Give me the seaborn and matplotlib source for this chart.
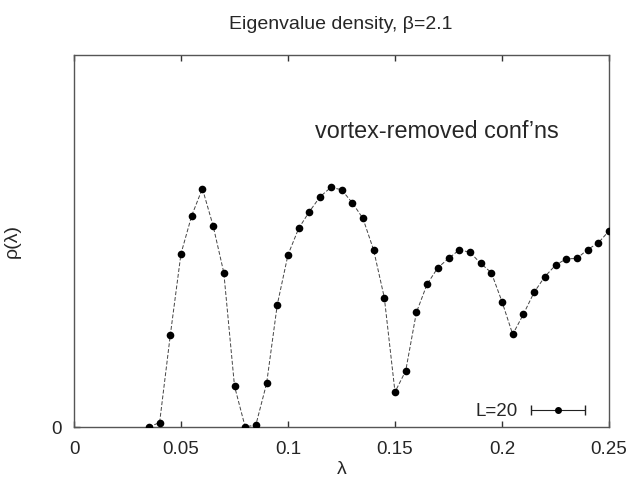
import numpy as np
import pandas as pd
import matplotlib
matplotlib.use("Agg")
import matplotlib.pyplot as plt
import seaborn as sns
from matplotlib.container import ErrorbarContainer
from matplotlib.legend_handler import HandlerErrorbar

# ---- data ----
lam = [0.035, 0.040, 0.045, 0.050, 0.055, 0.060, 0.065, 0.070, 0.075, 0.080,
       0.085, 0.090, 0.095, 0.100, 0.105, 0.110, 0.115, 0.120, 0.125, 0.130,
       0.135, 0.140, 0.145, 0.150, 0.155, 0.160, 0.165, 0.170, 0.175, 0.180,
       0.185, 0.190, 0.195, 0.200, 0.205, 0.210, 0.215, 0.220, 0.225, 0.230,
       0.235, 0.240, 0.245, 0.250]
rho = [0.000, 0.012, 0.247, 0.466, 0.568, 0.641, 0.541, 0.415, 0.110, 0.000,
       0.006, 0.117, 0.329, 0.463, 0.534, 0.579, 0.619, 0.644, 0.638, 0.603,
       0.561, 0.476, 0.348, 0.094, 0.151, 0.308, 0.384, 0.428, 0.453, 0.476,
       0.470, 0.440, 0.415, 0.337, 0.249, 0.303, 0.362, 0.404, 0.435, 0.452,
       0.453, 0.477, 0.495, 0.527]
xticks = [0, 0.05, 0.1, 0.15, 0.2, 0.25]
xticklabels = ["0", "0.05", "0.1", "0.15", "0.2", "0.25"]
yticks = [0]
yticklabels = ["0"]
series_label = "L=20"
title = "Eigenvalue density, \u03b2=2.1"
annotation = "vortex-removed conf\u2019ns"

df = pd.DataFrame({"lam": lam, "rho": rho})

sns.set_style("ticks")
plt.rcParams["font.family"] = ["Liberation Sans", "DejaVu Sans"]

fig = plt.figure(figsize=(6.33, 4.90), dpi=100)
ax = fig.add_axes([74/633, 1-427/490, (609-74)/633, (427-55)/490])

sns.lineplot(data=df, x="lam", y="rho", ax=ax, color="#444444", linewidth=0.7,
             linestyle=(0, (4, 2)), marker="o", markersize=5.5,
             markerfacecolor="black", markeredgecolor="black", markeredgewidth=0,
             zorder=3)

# dummy errorbar for legend key
eb = ax.errorbar([np.nan], [np.nan], xerr=[np.nan], fmt="o", color="black",
                 ecolor="#222222", elinewidth=0.8, capsize=3.5, markersize=4,
                 label=series_label)
leg = ax.legend(handles=[eb], labels=[series_label], loc="lower right",
                frameon=False, markerfirst=False, fontsize=13.5,
                handlelength=3.1, handletextpad=0.6,
                bbox_to_anchor=(0.99, -0.027),
                handler_map={ErrorbarContainer: HandlerErrorbar(xerr_size=1.45)})

ax.set_xlim(0, 0.25)
ax.set_ylim(0, 1.0)
ax.set_xticks(xticks)
ax.set_xticklabels(xticklabels)
ax.set_yticks(yticks)
ax.set_yticklabels(yticklabels)
ax.tick_params(axis="x", which="major", direction="in", length=4.2, width=1.0,
               color="#333333", labelsize=13.5, pad=10, top=True, bottom=True)
ax.tick_params(axis="y", which="major", direction="in", length=4.2, width=1.0,
               color="#333333", labelsize=13.5, pad=9, left=True, right=False)
for s in ax.spines.values():
    s.set_visible(True)
    s.set_color("#555555")
    s.set_linewidth(1.0)

ax.set_xlabel("\u03bb", fontsize=14, labelpad=2)
ax.set_ylabel("\u03c1(\u03bb)", fontsize=14, labelpad=22)
fig.text(341/633, 1-29/490, title, ha="center", va="baseline", fontsize=14)

ax.text(0.1126, 0.777, annotation, fontsize=16.8, va="baseline", ha="left")

fig.savefig("out.png", dpi=100)
